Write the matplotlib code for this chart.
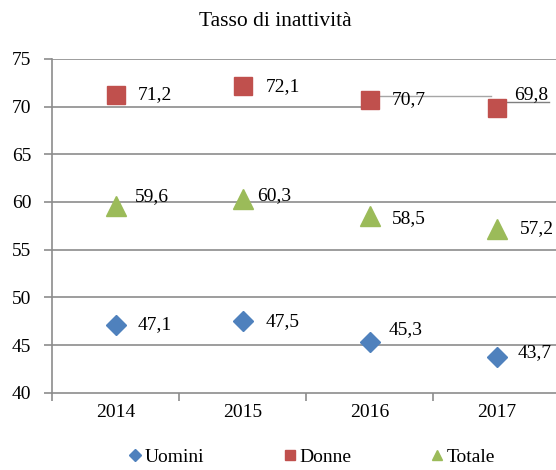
import matplotlib
matplotlib.use("Agg")
import matplotlib.pyplot as plt
from matplotlib.lines import Line2D

plt.rcParams['font.family'] = ['Liberation Serif', 'DejaVu Serif']

years = ["2014", "2015", "2016", "2017"]
uomini = [47.1, 47.5, 45.3, 43.7]
donne = [71.2, 72.1, 70.7, 69.8]
totale = [59.6, 60.3, 58.5, 57.2]
title = "Tasso di inattività"

# label offsets (pixels) relative to the marker
off_u = [(22, 0), (23, 0), (19, 13), (21, 5)]
off_d = [(22, 0), (23, 0), (22, 0), (18, 14)]
off_t = [(19, 9), (15, 3), (22, -2), (23, 0)]

blue, red, green = "#4F81BD", "#C0504D", "#9BBB59"
grid_c = "#8C8C8C"

fig = plt.figure(figsize=(5.56, 4.70), dpi=100)
ax = fig.add_axes([52/556, (470-392.7)/470, 1-52/556, (392.7-58.8)/470])

x = list(range(len(years)))
ax.set_xlim(-0.5, 3.5 - 4/127)
ax.set_ylim(40, 75)

# gridlines
for yv in range(45, 80, 5):
    if yv == 70:
        ax.axhline(yv, xmin=0, xmax=(371-52)/504, color=grid_c, lw=1.2, zorder=1)
    else:
        ax.axhline(yv, color=grid_c, lw=1.2, zorder=1)

# leader lines of moved labels
ax.plot([2.07, 2.96], [71.06, 71.06], color="#A6A6A6", lw=1.0, zorder=1)
ax.plot([3.07, 3.41], [70.43, 70.43], color="#7F7F7F", lw=1.0, zorder=1)

ax.plot(x, uomini, ls='none', marker='D', ms=10.5, color=blue, zorder=3)
ax.plot(x, donne, ls='none', marker='s', ms=13, color=red, zorder=3)
ax.plot(x, totale, ls='none', marker='^', ms=14, color=green, zorder=3)

def fmt(v):
    return f"{v:.1f}".replace(".", ",")

for vals, offs in ((uomini, off_u), (donne, off_d), (totale, off_t)):
    for xi, v, (dx, dy) in zip(x, vals, offs):
        ax.annotate(fmt(v), (xi, v), xytext=(dx, dy), textcoords='offset pixels',
                    ha='left', va='center', fontsize=14, color='black', zorder=4)

ax.set_yticks(range(40, 80, 5))
ax.set_xticks([-0.5, 0.5, 1.5, 2.5], minor=False)
ax.set_xticklabels([])
ax.set_xticks(x, minor=True)
ax.set_xticklabels(years, minor=True)
ax.tick_params(axis='x', which='minor', length=0, pad=8, labelsize=14)
ax.tick_params(axis='x', which='major', length=6, color=grid_c, width=1.2)
ax.tick_params(axis='y', length=6, color=grid_c, width=1.2, labelsize=14, pad=9)

for s in ('top', 'right'):
    ax.spines[s].set_visible(False)
for s in ('left', 'bottom'):
    ax.spines[s].set_color(grid_c)
    ax.spines[s].set_linewidth(1.2)

fig.text(275/556, 1-22/470, title, ha='center', va='center', fontsize=15.5)

handles = [
    Line2D([], [], ls='none', marker='D', ms=6, color=blue, label="Uomini"),
    Line2D([], [], ls='none', marker='s', ms=7, color=red, label="Donne"),
    Line2D([], [], ls='none', marker='^', ms=7, color=green, label="Totale"),
]
fig.legend(handles=handles, loc='center', bbox_to_anchor=(312/556, 1-457/470),
           ncol=3, frameon=False, fontsize=14, handlelength=0.6, handletextpad=0.2,
           columnspacing=4.1, borderaxespad=0)

fig.savefig("out.png", dpi=100)
